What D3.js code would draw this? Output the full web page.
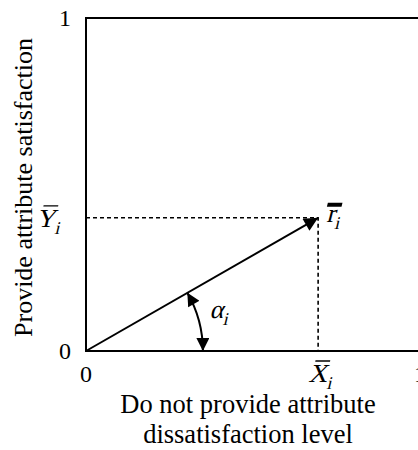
<!DOCTYPE html>
<html>
<head>
<meta charset="utf-8">
<script src="https://cdn.jsdelivr.net/npm/d3@7"></script>
<style>
  body { margin: 0; background: #fff; }
  text, tspan { font-family: "Liberation Serif", "Times New Roman", serif; fill: #000; }
</style>
</head>
<body>
<svg id="chart"></svg>
<script>
// axis ticks (unit square)
const tickValues = [0, 1];
const tickLabels = ["0", "1"];

// the attribute point (X̄i, Ȳi) and the angle arc radius, in data units
const pointX = [0.695];
const pointY = [0.40];
const arcRadius = [0.35];

// texts
const xTitle = ["Do not provide attribute", "dissatisfaction level"];
const yTitle = "Provide attribute satisfaction";

const margin = {top: 18, right: -2, bottom: 99, left: 86},
    svgWidth = 418,
    svgHeight = 450,
    width = svgWidth - margin.left - margin.right,
    height = svgHeight - margin.top - margin.bottom;

const svg = d3.select("#chart")
    .attr("width", svgWidth)
    .attr("height", svgHeight);

const defs = svg.append("defs");

// big arrow head for the vector
defs.append("marker")
    .attr("id", "headBig")
    .attr("viewBox", "0 0 10 10")
    .attr("refX", 10).attr("refY", 5)
    .attr("markerUnits", "userSpaceOnUse")
    .attr("markerWidth", 18).attr("markerHeight", 14)
    .attr("orient", "auto")
    .append("path").attr("d", "M0,0L10,5L0,10z").attr("fill", "#000");

// small arrow heads for the angle arc
defs.append("marker")
    .attr("id", "headSmall")
    .attr("viewBox", "0 0 10 10")
    .attr("refX", 10).attr("refY", 5)
    .attr("markerUnits", "userSpaceOnUse")
    .attr("markerWidth", 16).attr("markerHeight", 13)
    .attr("orient", "auto-start-reverse")
    .append("path").attr("d", "M0,0L10,5L0,10z").attr("fill", "#000");

const g = svg.append("g")
    .attr("transform", `translate(${margin.left},${margin.top})`);

var xScale = d3.scaleLinear().domain([0, 1]).range([0, width]);
var yScale = d3.scaleLinear().domain([0, 1]).range([height, 0]);

// frame
g.append("rect")
    .attr("x", xScale(0)).attr("y", yScale(1))
    .attr("width", xScale(1) - xScale(0))
    .attr("height", yScale(0) - yScale(1))
    .attr("fill", "none")
    .attr("stroke", "#000")
    .attr("stroke-width", 2);

// tick labels
g.selectAll(".ytick")
    .data(tickValues)
    .enter().append("text")
    .attr("class", "ytick")
    .attr("x", -15)
    .attr("y", d => yScale(d))
    .attr("dy", "0.35em")
    .attr("text-anchor", "end")
    .style("font-size", "24px")
    .text((d, i) => tickLabels[i]);

g.selectAll(".xtick")
    .data(tickValues)
    .enter().append("text")
    .attr("class", "xtick")
    .attr("x", d => xScale(d))
    .attr("y", yScale(0) + 31)
    .attr("text-anchor", "middle")
    .style("font-size", "24px")
    .text((d, i) => tickLabels[i]);

const px = xScale(pointX[0]), py = yScale(pointY[0]);

// dotted projections
g.append("path")
    .attr("d", d3.line()([[xScale(0), py], [px, py], [px, yScale(0)]]))
    .attr("fill", "none")
    .attr("stroke", "#000")
    .attr("stroke-width", 1.6)
    .attr("stroke-dasharray", "4,3");

// the vector
g.append("line")
    .attr("x1", xScale(0)).attr("y1", yScale(0))
    .attr("x2", px).attr("y2", py)
    .attr("stroke", "#000")
    .attr("stroke-width", 2)
    .attr("marker-end", "url(#headBig)");

// angle arc
const angle = Math.atan2(pointY[0], pointX[0]);
const rpx = xScale(arcRadius[0]) - xScale(0);
const ax0 = xScale(0) + rpx * Math.cos(angle), ay0 = yScale(0) - rpx * Math.sin(angle);
const ax1 = xScale(0) + rpx, ay1 = yScale(0);
g.append("path")
    .attr("d", `M${ax0},${ay0}A${rpx},${rpx} 0 0 1 ${ax1},${ay1}`)
    .attr("fill", "none")
    .attr("stroke", "#000")
    .attr("stroke-width", 2)
    .attr("marker-start", "url(#headSmall)")
    .attr("marker-end", "url(#headSmall)");

// slanted (italic-looking) symbol with optional overbar and subscript
function symbol(x, y, main, sub, opts) {
    const s = g.append("g")
        .attr("transform", `translate(${x},${y}) skewX(-14)`);
    const t = s.append("text")
        .attr("text-anchor", opts.anchor || "start")
        .style("font-size", "26px");
    const m = t.append("tspan").text(main);
    t.append("tspan")
        .attr("dx", 1)
        .attr("dy", 7)
        .style("font-size", "18px")
        .text(sub);
    if (opts.bar) {
        const x0 = m.node().getStartPositionOfChar(0).x;
        const w = m.node().getComputedTextLength();
        s.append("line")
            .attr("x1", x0 + opts.barInset)
            .attr("x2", x0 + w - opts.barInset)
            .attr("y1", opts.barY).attr("y2", opts.barY)
            .attr("stroke", "#000")
            .attr("stroke-width", opts.bar);
    }
}

symbol(-25, py + 9, "Y", "i", {anchor: "end", bar: 1.3, barY: -21, barInset: 2});
symbol(px - 10, yScale(0) + 31, "X", "i", {bar: 1.3, barY: -21, barInset: 2});
symbol(px + 8, py + 4, "r", "i", {bar: 4, barY: -17, barInset: -3});
symbol(xScale(0.37), yScale(0) - 33, "\u03b1", "i", {});

// axis titles
svg.append("text")
    .attr("transform", `translate(32,${margin.top + height / 2 + 3}) rotate(-90)`)
    .attr("text-anchor", "middle")
    .style("font-size", "26px")
    .text(yTitle);

svg.selectAll(".xtitle")
    .data(xTitle)
    .enter().append("text")
    .attr("class", "xtitle")
    .attr("x", 248)
    .attr("y", (d, i) => 413 + i * 30)
    .attr("text-anchor", "middle")
    .style("font-size", "26.5px")
    .text(d => d);
</script>
</body>
</html>
